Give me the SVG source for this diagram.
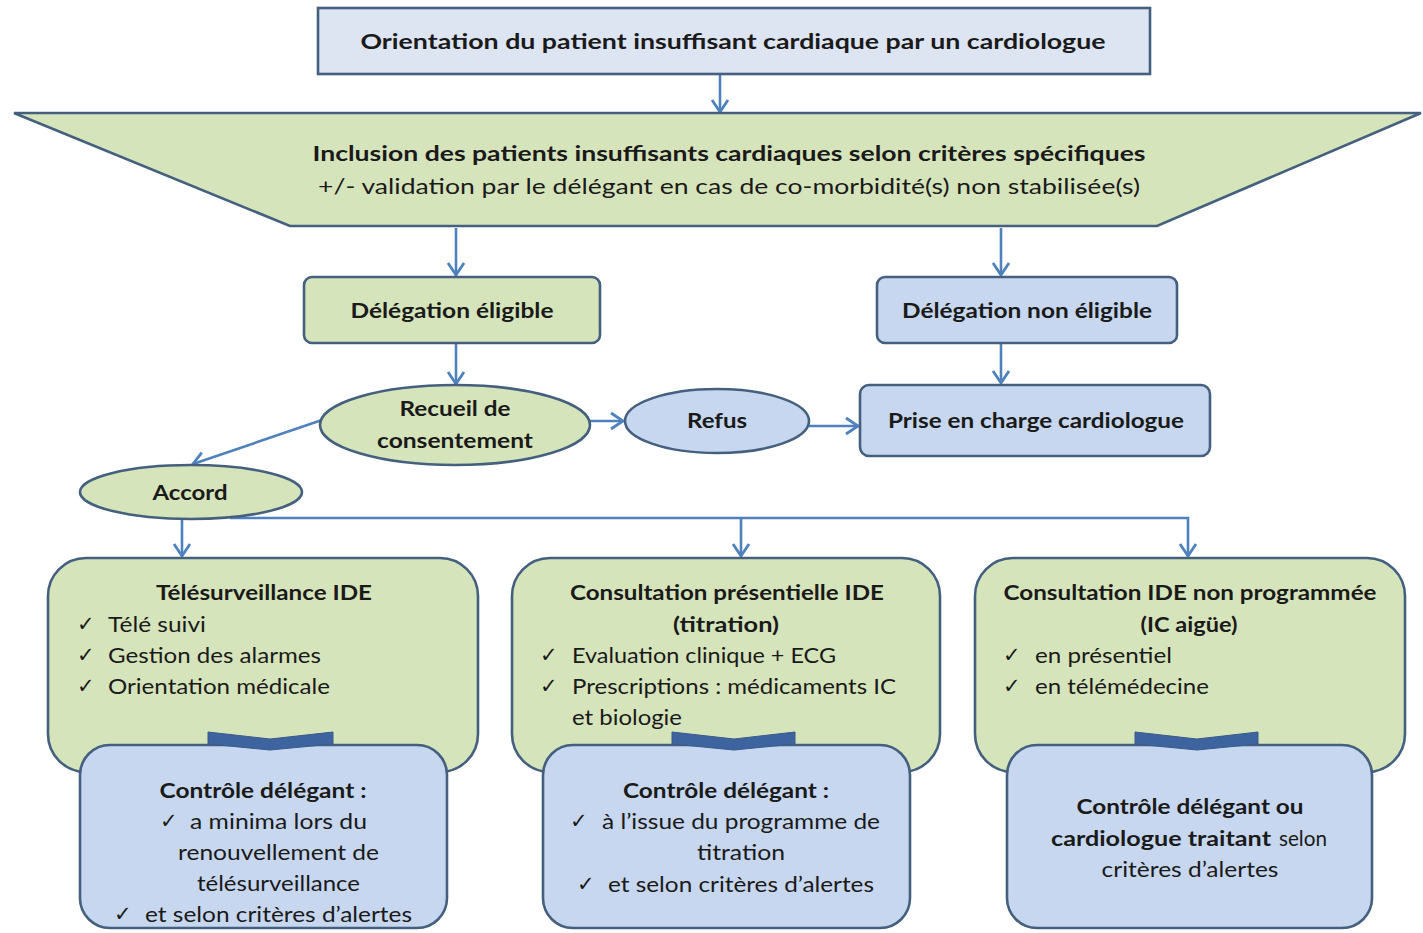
<svg xmlns="http://www.w3.org/2000/svg" width="1423" height="933" viewBox="0 0 1423 933">
<style>
text{font-family:Lato,"Liberation Sans",Arial,sans-serif;fill:#1a1a1a;font-size:21px}
.b{font-weight:bold}
.c{text-anchor:middle}
.ck{font-family:"DejaVu Sans",sans-serif;font-size:21px}
.node{stroke:#44607e;stroke-width:2.6}
.green{fill:#d6e4bb}
.blue{fill:#c6d7ef}
.lav{fill:#dde4f2}
.conn{fill:none;stroke:#4f81bd;stroke-width:2.6}
.brk{fill:#3e64a0;stroke:#3a5a8c;stroke-width:1}
</style>
<defs>
<marker id="arr" markerUnits="userSpaceOnUse" markerWidth="20" markerHeight="20" refX="15" refY="10" orient="auto">
<path d="M3,2 L15,10 L3,18" fill="none" stroke="#4f81bd" stroke-width="2.8"/>
</marker>
</defs>
<rect width="1423" height="933" fill="#ffffff"/>

<g id="connectors">
<path class="conn" d="M720,74 V112" marker-end="url(#arr)"/>
<path class="conn" d="M456,228 V275" marker-end="url(#arr)"/>
<path class="conn" d="M1001,228 V275" marker-end="url(#arr)"/>
<path class="conn" d="M456,344 V384" marker-end="url(#arr)"/>
<path class="conn" d="M1001,344 V383" marker-end="url(#arr)"/>
<path class="conn" d="M590,421 H623" marker-end="url(#arr)"/>
<path class="conn" d="M809,426 H858" marker-end="url(#arr)"/>
<path class="conn" d="M322,420 L193,464" marker-end="url(#arr)"/>
<path class="conn" d="M182,519 V556" marker-end="url(#arr)"/>
<path class="conn" d="M230,518 H1188 V556" marker-end="url(#arr)"/>
<path class="conn" d="M741,518 V556" marker-end="url(#arr)"/>
</g>

<g id="orientation">
<rect class="node lav" x="318" y="8" width="832" height="66"/>
<text class="c b" x="733" y="49" font-size="22" textLength="745" lengthAdjust="spacingAndGlyphs">Orientation du patient insuffisant cardiaque par un cardiologue</text>
</g>

<g id="inclusion">
<polygon class="node green" points="14,113 1421,113 1157,226 290,226"/>
<text class="c b" x="729" y="161" textLength="833" lengthAdjust="spacingAndGlyphs">Inclusion des patients insuffisants cardiaques selon critères spécifiques</text>
<text class="c" x="729" y="194" textLength="822" lengthAdjust="spacingAndGlyphs">+/- validation par le délégant en cas de co-morbidité(s) non stabilisée(s)</text>
</g>

<g id="delegation-eligible">
<rect class="node green" x="304" y="277" width="296" height="66" rx="8"/>
<text class="c b" x="452" y="318" textLength="203" lengthAdjust="spacingAndGlyphs">Délégation éligible</text>
</g>

<g id="delegation-non-eligible">
<rect class="node blue" x="877" y="277" width="300" height="66" rx="8"/>
<text class="c b" x="1027" y="318" textLength="250" lengthAdjust="spacingAndGlyphs">Délégation non éligible</text>
</g>

<g id="recueil">
<ellipse class="node green" cx="455" cy="425" rx="135" ry="40"/>
<text class="c b" x="455" y="416" textLength="111" lengthAdjust="spacingAndGlyphs">Recueil de</text>
<text class="c b" x="455" y="448" textLength="156" lengthAdjust="spacingAndGlyphs">consentement</text>
</g>

<g id="refus">
<ellipse class="node blue" cx="717" cy="421" rx="92" ry="32"/>
<text class="c b" x="717" y="428" textLength="60" lengthAdjust="spacingAndGlyphs">Refus</text>
</g>

<g id="prise-en-charge">
<rect class="node blue" x="860" y="385" width="350" height="71" rx="9"/>
<text class="c b" x="1036" y="428" textLength="296" lengthAdjust="spacingAndGlyphs">Prise en charge cardiologue</text>
</g>

<g id="accord">
<ellipse class="node green" cx="191" cy="492" rx="111" ry="27"/>
<text class="c b" x="190" y="500" textLength="75" lengthAdjust="spacingAndGlyphs">Accord</text>
</g>

<g id="telesurveillance">
<rect class="node green" x="48" y="558" width="430" height="214" rx="38"/>
<text class="c b" x="264" y="600" textLength="216" lengthAdjust="spacingAndGlyphs">Télésurveillance IDE</text>
<text class="ck" x="77" y="631">✓</text>
<text x="108" y="632" textLength="98" lengthAdjust="spacingAndGlyphs">Télé suivi</text>
<text class="ck" x="77" y="662">✓</text>
<text x="108" y="663" textLength="213" lengthAdjust="spacingAndGlyphs">Gestion des alarmes</text>
<text class="ck" x="77" y="693">✓</text>
<text x="108" y="694" textLength="222" lengthAdjust="spacingAndGlyphs">Orientation médicale</text>
</g>

<g id="controle-1">
<rect class="node blue" x="80" y="745" width="367" height="183" rx="30"/>
<text class="c b" x="263" y="798" textLength="207" lengthAdjust="spacingAndGlyphs">Contrôle délégant :</text>
<text class="ck" x="160" y="828">✓</text>
<text x="190" y="829" textLength="177" lengthAdjust="spacingAndGlyphs">a minima lors du</text>
<text x="178" y="860" textLength="201" lengthAdjust="spacingAndGlyphs">renouvellement  de</text>
<text x="197" y="891" textLength="163" lengthAdjust="spacingAndGlyphs">télésurveillance</text>
<text class="ck" x="114" y="921">✓</text>
<text x="145" y="922" textLength="267" lengthAdjust="spacingAndGlyphs">et selon critères d’alertes</text>
<path class="brk" d="M208,732 L270,739 L333,732 L333,744 L270,750 L208,744 Z"/>
</g>

<g id="consultation-presentielle">
<rect class="node green" x="512" y="558" width="428" height="214" rx="38"/>
<text class="c b" x="727" y="600" textLength="314" lengthAdjust="spacingAndGlyphs">Consultation présentielle IDE</text>
<text class="c b" x="726" y="632" textLength="106" lengthAdjust="spacingAndGlyphs">(titration)</text>
<text class="ck" x="540" y="662">✓</text>
<text x="572" y="663" textLength="264" lengthAdjust="spacingAndGlyphs">Evaluation clinique + ECG</text>
<text class="ck" x="540" y="693">✓</text>
<text x="572" y="694" textLength="324" lengthAdjust="spacingAndGlyphs">Prescriptions : médicaments IC</text>
<text x="572" y="725" textLength="110" lengthAdjust="spacingAndGlyphs">et biologie</text>
</g>

<g id="controle-2">
<rect class="node blue" x="543" y="745" width="367" height="183" rx="30"/>
<text class="c b" x="726" y="798" textLength="206" lengthAdjust="spacingAndGlyphs">Contrôle délégant :</text>
<text class="ck" x="570" y="828">✓</text>
<text x="602" y="829" textLength="278" lengthAdjust="spacingAndGlyphs">à l’issue du programme de</text>
<text class="c" x="741" y="860" textLength="88" lengthAdjust="spacingAndGlyphs">titration</text>
<text class="ck" x="577" y="891">✓</text>
<text x="608" y="892" textLength="266" lengthAdjust="spacingAndGlyphs">et selon critères d’alertes</text>
<path class="brk" d="M672,732 L734,739 L795,732 L795,744 L734,750 L672,744 Z"/>
</g>

<g id="consultation-non-programmee">
<rect class="node green" x="975" y="558" width="430" height="214" rx="38"/>
<text class="c b" x="1190" y="600" textLength="373" lengthAdjust="spacingAndGlyphs">Consultation IDE non programmée</text>
<text class="c b" x="1189" y="632" textLength="97" lengthAdjust="spacingAndGlyphs">(IC aigüe)</text>
<text class="ck" x="1003" y="662">✓</text>
<text x="1035" y="663" textLength="137" lengthAdjust="spacingAndGlyphs">en présentiel</text>
<text class="ck" x="1003" y="693">✓</text>
<text x="1035" y="694" textLength="174" lengthAdjust="spacingAndGlyphs">en télémédecine</text>
</g>

<g id="controle-3">
<rect class="node blue" x="1007" y="745" width="365" height="183" rx="30"/>
<text class="c b" x="1190" y="814" textLength="227" lengthAdjust="spacingAndGlyphs">Contrôle délégant ou</text>
<text class="b" x="1051" y="846" textLength="220" lengthAdjust="spacingAndGlyphs">cardiologue traitant</text>
<text x="1279" y="846" textLength="48" lengthAdjust="spacingAndGlyphs">selon</text>
<text class="c" x="1190" y="877" textLength="177" lengthAdjust="spacingAndGlyphs">critères d’alertes</text>
<path class="brk" d="M1135,732 L1197,739 L1258,732 L1258,744 L1197,750 L1135,744 Z"/>
</g>
</svg>
